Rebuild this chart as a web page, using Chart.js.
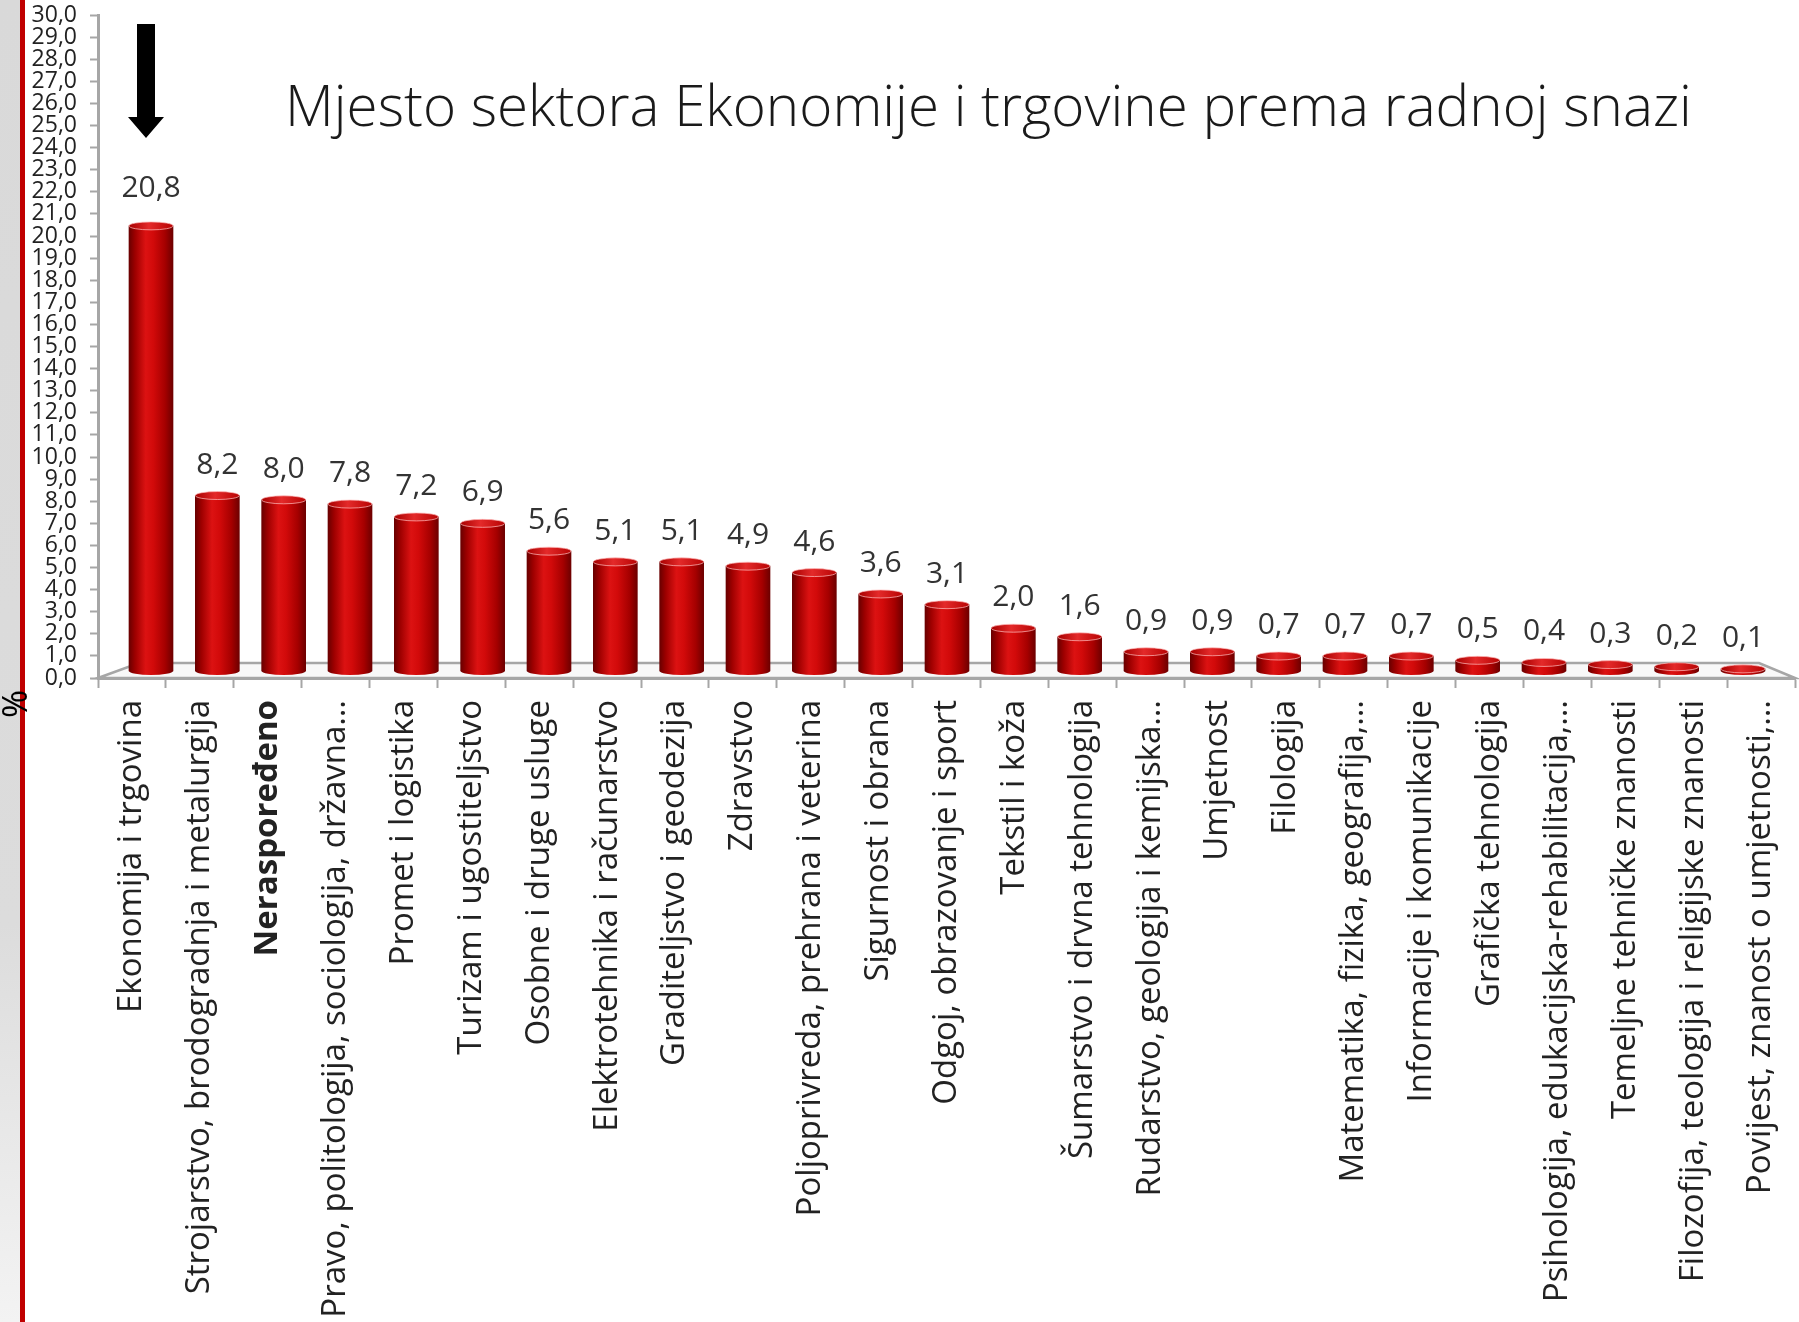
<!DOCTYPE html>
<html>
<head>
<meta charset="utf-8">
<script src="https://cdn.jsdelivr.net/npm/chart.js@4.4.1/dist/chart.umd.min.js"></script>
<style>
  html, body { margin: 0; padding: 0; }
  body {
    width: 1799px;
    height: 1322px;
    overflow: hidden;
    background:
      linear-gradient(to right, transparent 0 20px, #c00000 20px 25px, transparent 25px),
      linear-gradient(to bottom, #d9d9d9 0%, #dcdcdc 70%, #f3f3f3 100%) 0 0 / 20px 100% no-repeat,
      #ffffff;
  }
  #wrap { position: relative; width: 1799px; height: 1322px; }
</style>
</head>
<body>
<div id="wrap"><canvas id="chart"></canvas></div>
<script>
const categories = [
  "Ekonomija i trgovina",
  "Strojarstvo, brodogradnja i metalurgija",
  "Neraspoređeno",
  "Pravo, politologija, sociologija, državna…",
  "Promet i logistika",
  "Turizam i ugostiteljstvo",
  "Osobne i druge usluge",
  "Elektrotehnika i računarstvo",
  "Graditeljstvo i geodezija",
  "Zdravstvo",
  "Poljoprivreda, prehrana i veterina",
  "Sigurnost i obrana",
  "Odgoj, obrazovanje i sport",
  "Tekstil i koža",
  "Šumarstvo i drvna tehnologija",
  "Rudarstvo, geologija i kemijska…",
  "Umjetnost",
  "Filologija",
  "Matematika, fizika, geografija,…",
  "Informacije i komunikacije",
  "Grafička tehnologija",
  "Psihologija, edukacijska-rehabilitacija,…",
  "Temeljne tehničke znanosti",
  "Filozofija, teologija i religijske znanosti",
  "Povijest, znanost o umjetnosti,…"
];

const shares = [20.8, 8.2, 8.0, 7.8, 7.2, 6.9, 5.6, 5.1, 5.1, 4.9, 4.6, 3.6, 3.1,
  2.0, 1.6, 0.9, 0.9, 0.7, 0.7, 0.7, 0.5, 0.4, 0.3, 0.2, 0.1];

const boldCategory = "Neraspoređeno";
const chartTitle = "Mjesto sektora Ekonomije i trgovine prema radnoj snazi";
const axisTitle = "%";
const yMin = 0;
const yMax = 30;
const yStep = 1;

const FONT = "'Open Sans', 'DejaVu Sans', sans-serif";
const BAR_W = 44;
const CAP_RY = 4;

function comma(v) {
  return Number(v).toFixed(1).replace(".", ",");
}

function bodyGradient(ctx, cx, w) {
  const g = ctx.createLinearGradient(cx - w / 2, 0, cx + w / 2, 0);
  g.addColorStop(0, "#6a0000");
  g.addColorStop(0.14, "#9e0000");
  g.addColorStop(0.38, "#dc1212");
  g.addColorStop(0.55, "#d20a0a");
  g.addColorStop(0.82, "#a50000");
  g.addColorStop(1, "#6e0000");
  return g;
}

function topGradient(ctx, cx, w) {
  const g = ctx.createLinearGradient(cx - w / 2, 0, cx + w / 2, 0);
  g.addColorStop(0, "#a80000");
  g.addColorStop(0.45, "#e42a2a");
  g.addColorStop(1, "#b80404");
  return g;
}

function barFill(c) {
  const chart = c.chart;
  const xs = chart.scales.xb;
  if (!chart.chartArea || !xs || !c.raw) {
    return "#c00000";
  }
  return bodyGradient(chart.ctx, xs.getPixelForValue(c.raw.x), BAR_W);
}

const floorPlugin = {
  id: "floor",
  beforeDatasetsDraw(chart) {
    const { ctx, chartArea: a } = chart;
    ctx.save();
    ctx.beginPath();
    ctx.moveTo(a.left, a.bottom);
    ctx.lineTo(a.left + 41, a.bottom - 15);
    ctx.lineTo(a.right - 36, a.bottom - 15);
    ctx.lineTo(a.right, a.bottom);
    ctx.closePath();
    ctx.fillStyle = "#f8f8f8";
    ctx.fill();
    ctx.strokeStyle = "#a6a6a6";
    ctx.lineWidth = 2.5;
    ctx.stroke();
    ctx.restore();
  }
};

const cylinderPlugin = {
  id: "cylinders",
  afterDatasetsDraw(chart) {
    const ctx = chart.ctx;
    const meta = chart.getDatasetMeta(0);
    ctx.save();
    meta.data.forEach((bar, i) => {
      const { x, y, base, width } = bar.getProps(["x", "y", "base", "width"], true);
      const rx = width / 2;
      ctx.fillStyle = bodyGradient(ctx, x, width);
      ctx.beginPath();
      ctx.ellipse(x, base, rx, CAP_RY, 0, 0, Math.PI);
      ctx.fill();
      ctx.fillStyle = topGradient(ctx, x, width);
      ctx.beginPath();
      ctx.ellipse(x, y, rx, CAP_RY, 0, 0, Math.PI * 2);
      ctx.fill();
      ctx.strokeStyle = "rgba(255, 190, 190, 0.7)";
      ctx.lineWidth = 1;
      ctx.stroke();

      // taller bars carry their label a little higher
      const gap = shares[i] > 15 ? 25 : 18;
      ctx.fillStyle = "#333333";
      ctx.font = "30px " + FONT;
      ctx.textAlign = "center";
      ctx.textBaseline = "alphabetic";
      ctx.fillText(comma(shares[i]), x, y - CAP_RY - gap);
    });
    ctx.restore();
  }
};

const decorPlugin = {
  id: "decor",
  afterDraw(chart) {
    const { ctx, chartArea: a } = chart;
    ctx.save();

    // title inside the plot
    let size = 50;
    ctx.font = "300 " + size + "px " + FONT;
    size = size * 1407 / ctx.measureText(chartTitle).width;
    ctx.font = "300 " + size + "px " + FONT;
    ctx.fillStyle = "#1a1a1a";
    ctx.textAlign = "left";
    ctx.textBaseline = "alphabetic";
    ctx.fillText(chartTitle, a.left + 187, a.top + 111);

    // arrow over the first bar
    const ax = chart.scales.xb.getPixelForValue(0) - 5;
    const top = a.top + 9;
    ctx.fillStyle = "#000000";
    ctx.beginPath();
    ctx.moveTo(ax - 9, top);
    ctx.lineTo(ax + 9, top);
    ctx.lineTo(ax + 9, top + 93);
    ctx.lineTo(ax + 18, top + 93);
    ctx.lineTo(ax, top + 114);
    ctx.lineTo(ax - 18, top + 93);
    ctx.lineTo(ax - 9, top + 93);
    ctx.closePath();
    ctx.fill();

    // axis unit
    ctx.translate(17, a.bottom + 26);
    ctx.rotate(-Math.PI / 2);
    ctx.font = "34px " + FONT;
    ctx.fillStyle = "#000000";
    ctx.textAlign = "center";
    ctx.textBaseline = "middle";
    ctx.fillText(axisTitle, 0, 0);
    ctx.restore();
  }
};

new Chart(document.getElementById("chart"), {
  type: "bar",
  data: {
    labels: categories,
    datasets: [{
      label: "%",
      data: shares.map((v, i) => ({ x: i, y: v })),
      xAxisID: "xb",
      yAxisID: "yb",
      backgroundColor: barFill,
      borderWidth: 0,
      barThickness: BAR_W
    }]
  },
  options: {
    responsive: true,
    maintainAspectRatio: false,
    animation: false,
    events: [],
    layout: {
      padding: { top: 15, right: 4, bottom: 0, left: 0 }
    },
    plugins: {
      legend: { display: false },
      tooltip: { enabled: false },
      title: { display: false }
    },
    scales: {
      x: {
        type: "category",
        position: "bottom",
        offset: true,
        grid: {
          display: true,
          offset: true,
          drawOnChartArea: false,
          drawTicks: true,
          tickLength: 10,
          tickWidth: 2,
          tickColor: "#a6a6a6"
        },
        border: { display: true, color: "#a6a6a6", width: 3 },
        ticks: {
          autoSkip: false,
          minRotation: 90,
          maxRotation: 90,
          padding: 12,
          color: "#222222",
          font: (c) => ({
            family: FONT,
            size: 33,
            weight: categories[c.index] === boldCategory ? "bold" : "normal"
          })
        },
        afterFit: (scale) => {
          scale.height = 644;
          scale.paddingLeft = 0;
          scale.paddingRight = 0;
        }
      },
      y: {
        type: "linear",
        position: "left",
        min: yMin,
        max: yMax,
        grid: {
          display: true,
          drawOnChartArea: false,
          drawTicks: true,
          tickLength: 8,
          tickWidth: 2,
          tickColor: "#a6a6a6"
        },
        border: { display: true, color: "#a6a6a6", width: 3 },
        ticks: {
          stepSize: yStep,
          autoSkip: false,
          padding: 13,
          color: "#222222",
          font: { family: FONT, size: 23 },
          callback: (v) => comma(v)
        },
        afterFit: (scale) => {
          scale.width = 98;
          scale.paddingTop = 0;
          scale.paddingBottom = 0;
        }
      },
      xb: {
        type: "linear",
        display: false,
        offset: false,
        grid: { offset: false },
        min: -0.799,
        max: 24.784
      },
      yb: {
        type: "linear",
        display: false,
        min: -0.327,
        max: 30.654
      }
    }
  },
  plugins: [floorPlugin, cylinderPlugin, decorPlugin]
});
</script>
</body>
</html>
